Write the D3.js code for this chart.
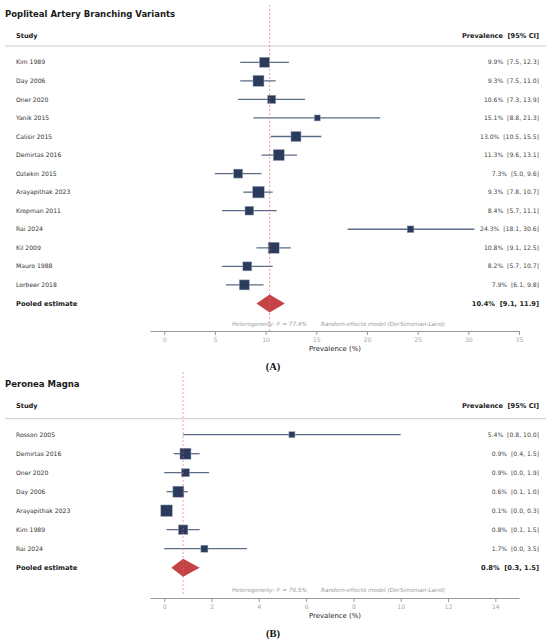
<!DOCTYPE html>
<html><head><meta charset="utf-8">
<script src="https://cdn.jsdelivr.net/npm/d3@7"></script>
<style>body{margin:0;background:#fff}svg{display:block}text{font-family:"DejaVu Sans",sans-serif}</style>
</head><body>
<script>
// Panel A data
const studiesA = ["Kim 1989","Day 2006","Oner 2020","Yanik 2015","Calisir 2015","Demirtas 2016","Oztekin 2015","Arayapithak 2023","Kropman 2011","Rai 2024","Kil 2009","Mauro 1988","Lorbeer 2018"];
const estA   = [9.9, 9.3, 10.6, 15.1, 13.0, 11.3, 7.3, 9.3, 8.4, 24.3, 10.8, 8.2, 7.9];
const lowA   = [7.5, 7.5, 7.3, 8.8, 10.5, 9.6, 5.0, 7.8, 5.7, 18.1, 9.1, 5.7, 6.1];
const highA  = [12.3, 11.0, 13.9, 21.3, 15.5, 13.1, 9.6, 10.7, 11.1, 30.6, 12.5, 10.7, 9.8];
const weightA = [8.5, 10.2, 5.8, 3.0, 8.5, 10.2, 6.8, 11.2, 6.4, 3.8, 10.2, 6.8, 8.5];
const pooledA = [10.4, 9.1, 11.9];
const i2A = 77.4;
const ticksA = [0,5,10,15,20,25,30,35];
const maxA = 35;

// Panel B data
const studiesB = ["Rosson 2005","Demirtas 2016","Oner 2020","Day 2006","Arayapithak 2023","Kim 1989","Rai 2024"];
const estB   = [5.4, 0.9, 0.9, 0.6, 0.1, 0.8, 1.7];
const lowB   = [0.8, 0.4, 0.0, 0.1, 0.0, 0.1, 0.0];
const highB  = [10.0, 1.5, 1.9, 1.0, 0.3, 1.5, 3.5];
const weightB = [5.9, 19.7, 10.4, 19.7, 21.5, 14.7, 8.0];
const pooledB = [0.8, 0.3, 1.5];
const i2B = 76.5;
const ticksB = [0,2,4,6,8,10,12,14];
const maxB = 15;

const W = 550, H = 641;
const NB = "\u00A0";
const svg = d3.select("body").append("svg").attr("width", W).attr("height", H);

function panel(cfg) {
  const g = svg.append("g").attr("transform", `translate(0,${cfg.top})`);
  const x = d3.scaleLinear().domain([-0.04 * cfg.max, cfg.max]).range([150, 519]);
  const rows = cfg.studies.concat(["Pooled estimate"]);
  const y = d3.scalePoint().domain(rows).range([cfg.row0, cfg.row0 + cfg.step * (rows.length - 1)]);
  const size = d3.scaleSqrt().domain([0, d3.max(cfg.weight)]).range([0, 11.5]);
  const fmt = d3.format(".1f");

  // title
  g.append("text").attr("x", 5).attr("y", 0).attr("dy", "0.35em")
    .attr("font-size", 8.5).attr("font-weight", "bold").attr("fill", "#1a1a1a").text(cfg.title);
  g.append("text").attr("x", 16).attr("y", 22).attr("dy", "0.35em")
    .attr("font-size", 6.6).attr("font-weight", "bold").attr("fill", "#1a1a1a").text("Study");
  g.append("text").attr("x", 539).attr("y", 22).attr("dy", "0.35em").attr("text-anchor", "end")
    .attr("font-size", 6.6).attr("font-weight", "bold").attr("fill", "#1a1a1a").text("Prevalence" + NB + NB + "[95% CI]");
  g.append("line").attr("x1", 5).attr("x2", 546).attr("y1", cfg.sep).attr("y2", cfg.sep)
    .attr("stroke", "#bbb").attr("stroke-width", 0.8);

  const data = cfg.studies.map((s, i) => ({s, e: cfg.est[i], lo: cfg.low[i], hi: cfg.high[i], w: cfg.weight[i]}));
  const rowG = g.selectAll("g.row").data(data).join("g").attr("class", "row");
  rowG.append("text").attr("x", 16).attr("y", d => y(d.s)).attr("dy", "0.35em")
    .attr("font-size", 6.1).attr("fill", "#333").text(d => d.s);
  rowG.append("line").attr("x1", d => x(d.lo)).attr("x2", d => x(d.hi))
    .attr("y1", d => y(d.s)).attr("y2", d => y(d.s))
    .attr("stroke", "#5d6d88").attr("stroke-width", 1.3);
  rowG.append("rect")
    .attr("x", d => x(d.e) - size(d.w) / 2).attr("y", d => y(d.s) - size(d.w) / 2)
    .attr("width", d => size(d.w)).attr("height", d => size(d.w))
    .attr("fill", "#2b3b5b").attr("stroke", "#9aa8bd").attr("stroke-width", 0.5);
  rowG.append("text").attr("x", 539).attr("y", d => y(d.s)).attr("dy", "0.35em").attr("text-anchor", "end")
    .attr("font-size", 6.1).attr("fill", "#444")
    .text(d => `${fmt(d.e)}%${NB}${NB}[${fmt(d.lo)}, ${fmt(d.hi)}]`);

  // pooled
  const py = y("Pooled estimate");
  g.append("text").attr("x", 16).attr("y", py).attr("dy", "0.35em")
    .attr("font-size", 6.7).attr("font-weight", "bold").attr("fill", "#1a1a1a").text("Pooled estimate");
  const [pe, pl, ph] = cfg.pooled;
  g.append("path")
    .attr("d", `M${x(pl)},${py}L${x(pe)},${py - 9}L${x(ph)},${py}L${x(pe)},${py + 9}Z`)
    .attr("fill", "#c13a3c").attr("opacity", 0.95);
  g.append("text").attr("x", 539).attr("y", py).attr("dy", "0.35em").attr("text-anchor", "end")
    .attr("font-size", 6.7).attr("font-weight", "bold").attr("fill", "#1a1a1a")
    .text(`${fmt(pe)}%${NB}${NB}[${fmt(pl)}, ${fmt(ph)}]`);

  // reference line (on top)
  g.append("line")
    .attr("x1", x(cfg.pooled[0])).attr("x2", x(cfg.pooled[0]))
    .attr("y1", cfg.refTop).attr("y2", cfg.refBottom)
    .attr("stroke", "#e06670").attr("stroke-opacity", 0.75).attr("stroke-width", 0.8).attr("stroke-dasharray", "2,2");

  // heterogeneity
  g.append("text").attr("x", 232).attr("y", cfg.het).attr("dy", "0.35em")
    .attr("font-size", 5.7).attr("font-style", "italic").attr("fill", "#999")
    .text(`Heterogeneity: I\u00B2 = ${fmt(cfg.i2)}%`);
  g.append("text").attr("x", 321).attr("y", cfg.het).attr("dy", "0.35em")
    .attr("font-size", 5.7).attr("font-style", "italic").attr("fill", "#999")
    .text("Random-effects model (DerSimonian-Laird)");

  // axis
  const ax = g.append("g").attr("transform", `translate(0,${cfg.axis})`)
    .call(d3.axisBottom(x).tickValues(cfg.ticks).tickSize(4).tickSizeOuter(0).tickPadding(3));
  ax.select(".domain").attr("stroke", "#999").attr("stroke-width", 1);
  ax.selectAll(".tick line").attr("stroke", "#999");
  ax.selectAll(".tick text").attr("fill", "#aaa").attr("font-size", 6.2).attr("font-family", "DejaVu Sans");
  g.append("text").attr("x", 335).attr("y", cfg.axis + 18).attr("dy", "0.35em").attr("text-anchor", "middle")
    .attr("font-size", 6.9).attr("fill", "#222").text("Prevalence (%)");
  g.append("text").attr("x", 273).attr("y", cfg.axis + 35.5).attr("dy", "0.35em").attr("text-anchor", "middle")
    .attr("font-size", 10.5).attr("font-weight", "bold").attr("fill", "#111")
    .style("font-family", "'Liberation Serif','Times New Roman',serif").text(cfg.label);
}

panel({title: "Popliteal Artery Branching Variants", label: "(A)", top: 14,
  studies: studiesA, est: estA, low: lowA, high: highA, weight: weightA, pooled: pooledA, i2: i2A,
  ticks: ticksA, max: maxA, row0: 48.3, step: 18.55, sep: 32, het: 310.3, axis: 317,
  refTop: -9, refBottom: 317});
panel({title: "Peronea Magna", label: "(B)", top: 384,
  studies: studiesB, est: estB, low: lowB, high: highB, weight: weightB, pooled: pooledB, i2: i2B,
  ticks: ticksB, max: maxB, row0: 50.7, step: 19, sep: 34.7, het: 206, axis: 214,
  refTop: -12, refBottom: 210});
</script>
</body></html>
